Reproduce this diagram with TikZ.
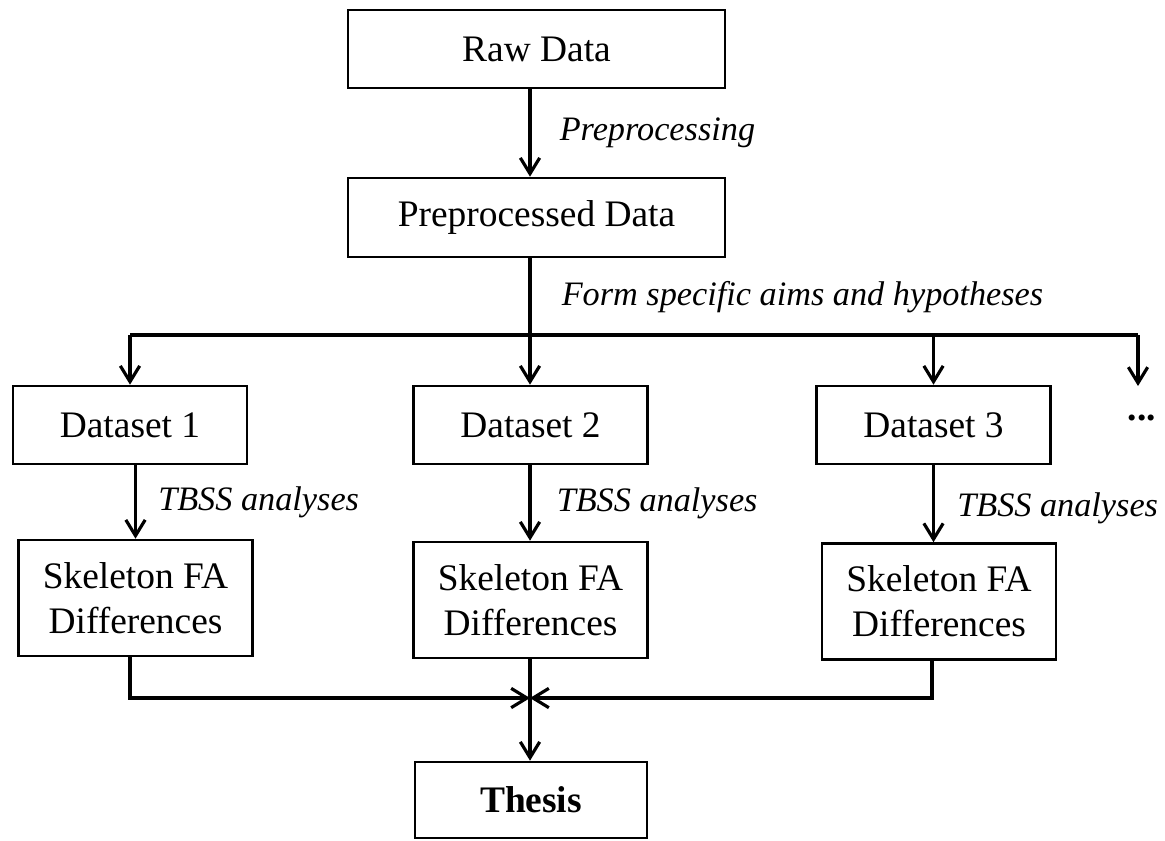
\documentclass[tikz,border=0pt]{standalone}
\usepackage{fontspec}
\setmainfont{Liberation Serif}
\usetikzlibrary{positioning,arrows.meta}

\begin{document}
\begin{tikzpicture}[x=0.02cm,y=-0.02cm,
    box/.style={draw,line width=1.5pt,rectangle,align=center,inner sep=0pt,
        font=\fontsize{21.3}{25.6}\selectfont},
    dbox/.style={box,minimum width=4.68cm,minimum height=1.56cm},
    sbox/.style={box,minimum width=4.68cm,minimum height=2.32cm},
    arr/.style={line width=2pt,-{Straight Barb[length=9pt,width=11pt,line width=1.8pt]}},
    lbl/.style={inner sep=0pt,font=\fontsize{19.5}{23}\selectfont\itshape}]
    \useasboundingbox (0,0) rectangle (1165,840);

    % top of the chain
    \node[box,minimum width=7.54cm,minimum height=1.56cm] (raw) at (536.5,49) {Raw Data};
    \node[box,minimum width=7.54cm,minimum height=1.58cm] (pre) at (536.5,217.5) {Preprocessed Data};
    \draw[arr] (raw.south -| 530,0) -- (pre.north -| 530,0) node[lbl,midway,right=0.56cm] {Preprocessing};

    % datasets
    \node[dbox] (d1) at (130,425) {Dataset 1};
    \node[dbox] (d2) at (530.5,425) {Dataset 2};
    \node[dbox] (d3) at (933.5,425) {Dataset 3};
    \node[font=\fontsize{21.3}{25.6}\selectfont\bfseries,inner sep=0pt] (dots) at (1142,418) {...};
    \coordinate (br) at (530,335);
    \coordinate (dtop) at (1138,386);
    \draw[line width=2pt] (pre.south -| br) -- (br) node[lbl,midway,right=0.6cm] {Form specific aims and hypotheses};
    \draw[line width=2pt] (d1.north |- br) -- (dtop |- br);
    \draw[arr] (d1.north |- br) -- (d1.north);
    \draw[arr] (br) -- (d2.north -| br);
    \draw[arr] (d3.north |- br) -- (d3.north);
    \draw[arr] (dtop |- br) -- (dtop);

    % TBSS results
    \node[sbox] (s1) at (135.5,598) {Skeleton FA\\Differences};
    \node[sbox] (s2) at (530.5,600) {Skeleton FA\\Differences};
    \node[sbox] (s3) at (939,601.5) {Skeleton FA\\Differences};
    \draw[arr] (s1.north |- d1.south) -- (s1.north) node[lbl,midway,right=0.42cm] {TBSS analyses};
    \draw[arr] (d2.south -| br) -- (s2.north -| br) node[lbl,midway,right=0.5cm] {TBSS analyses};
    \draw[arr] (d3.south) -- (d3.south |- s3.north) node[lbl,midway,right=0.44cm,yshift=-0.1cm] {TBSS analyses};

    % merge into thesis
    \node[box,minimum width=4.64cm,minimum height=1.52cm] (thesis) at (531,800) {\textbf{Thesis}};
    \coordinate (join) at (530,698);
    \draw[arr] (s1.south -| d1) |- (join);
    \draw[arr] (s3.south -| 932,0) |- (join);
    \draw[line width=2pt] (s2.south -| join) -- (join);
    \draw[arr] (join) -- (thesis.north -| join);
\end{tikzpicture}
\end{document}
